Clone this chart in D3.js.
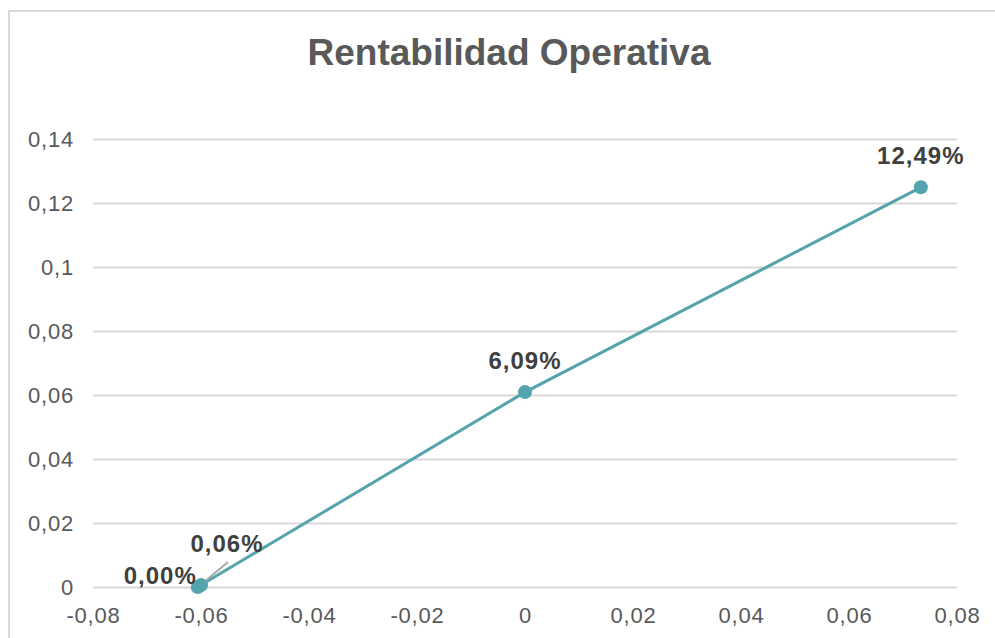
<!DOCTYPE html>
<html>
<head>
<meta charset="utf-8">
<script src="https://cdn.jsdelivr.net/npm/d3@7"></script>
<style>
  body { margin: 0; background: #fff; }
  text { font-family: "Liberation Sans", Arial, sans-serif; }
</style>
</head>
<body>
<div id="chart"></div>
<script>
var title = "Rentabilidad Operativa";
var xValues = [-0.0606, -0.0600, 0, 0.0733];
var yValues = [0, 0.0006, 0.0609, 0.1249];
var xTicks = [-0.08, -0.06, -0.04, -0.02, 0, 0.02, 0.04, 0.06, 0.08];
var yTicks = [0, 0.02, 0.04, 0.06, 0.08, 0.1, 0.12, 0.14];

var width = 995,
    height = 638;

var locale = d3.formatLocale({
    decimal: ",",
    thousands: ".",
    grouping: [3],
    currency: ["", " €"],
    minus: "-"
});
var tickFmt = locale.format("~g"),
    pctFmt = locale.format(".2%");

var points = xValues.map(function(x, i) { return { x: x, y: yValues[i] }; });

var x = d3.scaleLinear().domain([-0.08, 0.08]).range([93, 957]);
var y = d3.scaleLinear().domain([0, 0.14]).range([587, 139]);

var svg = d3.select("#chart").append("svg")
    .attr("width", width)
    .attr("height", height);

// chart frame (right and bottom edges fall outside the picture)
svg.append("rect")
    .attr("x", 9).attr("y", 11)
    .attr("width", 1100).attr("height", 700)
    .style("fill", "#fff")
    .style("stroke", "#d9d9d9")
    .style("stroke-width", 2);

svg.append("text")
    .attr("x", 509).attr("y", 65)
    .attr("text-anchor", "middle")
    .style("font-size", "37px")
    .style("font-weight", "bold")
    .style("fill", "#595959")
    .text(title);

// horizontal gridlines + y labels
var yAxis = d3.axisLeft(y).tickValues(yTicks).tickFormat(tickFmt)
    .tickSize(-(x.range()[1] - x.range()[0])).tickPadding(19);
svg.append("g")
    .attr("transform", "translate(" + x.range()[0] + ",0)")
    .call(yAxis)
    .call(function(g) {
        g.select(".domain").remove();
        g.selectAll(".tick line").style("stroke", "#d9d9d9").style("stroke-width", 2);
        g.selectAll(".tick text")
            .style("font-size", "22px")
            .style("letter-spacing", "0.8px")
            .style("fill", "#595959")
            .attr("font-family", null);
    });

var xAxis = d3.axisBottom(x).tickValues(xTicks).tickFormat(tickFmt)
    .tickSize(0).tickPadding(20);
svg.append("g")
    .attr("transform", "translate(0," + y(0) + ")")
    .call(xAxis)
    .call(function(g) {
        g.select(".domain").remove();
        g.selectAll(".tick text")
            .style("font-size", "22px")
            .style("letter-spacing", "0.8px")
            .style("fill", "#595959")
            .attr("font-family", null);
    });

var teal = "#55a3ad";

var line = d3.line()
    .x(function(d) { return x(d.x); })
    .y(function(d) { return y(d.y); });

svg.append("path")
    .datum(points)
    .attr("d", line)
    .style("fill", "none")
    .style("stroke", teal)
    .style("stroke-width", 3);

// leader line for the moved label
svg.append("line")
    .attr("x1", x(points[1].x) + 2).attr("y1", y(points[1].y) - 2)
    .attr("x2", x(points[1].x) + 27).attr("y2", y(points[1].y) - 23)
    .style("stroke", "#a6a6a6")
    .style("stroke-width", 2);

svg.selectAll("circle.pt")
    .data(points)
    .enter()
    .append("circle")
    .attr("class", "pt")
    .attr("cx", function(d) { return x(d.x); })
    .attr("cy", function(d) { return y(d.y); })
    .attr("r", 7)
    .style("fill", teal);

// label offsets relative to each point: [dx, dy, anchor]
var labelPos = [[-1, -3, "end"], [26, -33, "middle"], [0, -23, "middle"], [0, -23, "middle"]];

svg.selectAll("text.lbl")
    .data(points)
    .enter()
    .append("text")
    .attr("class", "lbl")
    .attr("x", function(d, i) { return x(d.x) + labelPos[i][0]; })
    .attr("y", function(d, i) { return y(d.y) + labelPos[i][1]; })
    .attr("text-anchor", function(d, i) { return labelPos[i][2]; })
    .style("font-size", "24px")
    .style("letter-spacing", "1px")
    .style("font-weight", "bold")
    .style("fill", "#404040")
    .text(function(d) { return pctFmt(d.y); });
</script>
</body>
</html>
